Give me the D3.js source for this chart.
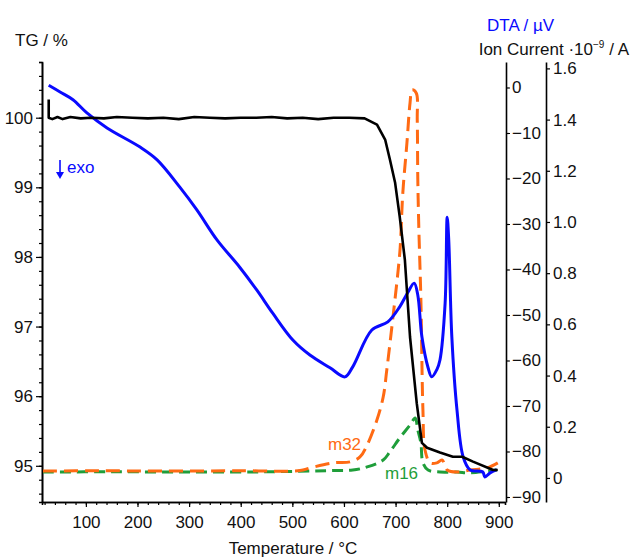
<!DOCTYPE html>
<html>
<head>
<meta charset="utf-8">
<script src="https://cdn.jsdelivr.net/npm/d3@7"></script>
<style>
  body { margin: 0; background: #fff; }
  svg { display: block; font-family: "Liberation Sans", Arial, sans-serif; }
</style>
</head>
<body>
<svg id="canvas" width="630" height="558"></svg>
<script>
// TG curve (left axis, %)
let tgTemp = [28, 28, 35, 45, 55, 70, 90, 110, 135, 160, 190, 220, 250, 280, 310, 340, 370, 400, 430, 460, 490, 520, 550, 580, 610, 640, 664, 680, 689, 699, 708, 718, 728, 741, 751, 761, 786, 811, 829, 850, 889, 898]
let tgValue = [100.26, 100.0, 99.98, 100.01, 99.98, 100.01, 99.99, 100.0, 99.99, 100.01, 100.0, 99.99, 100.0, 99.98, 100.01, 100.0, 99.99, 100.0, 100.0, 100.01, 99.99, 100.0, 99.98, 100.0, 100.0, 99.99, 99.9, 99.68, 99.4, 99.07, 98.58, 97.96, 96.85, 95.9, 95.33, 95.26, 95.19, 95.13, 95.13, 95.06, 94.94, 94.94]

// DTA curve (uV)
let dtaTemp = [28, 50, 75, 102, 141, 205, 238, 282, 315, 354, 398, 431, 462, 501, 534, 573, 602, 617, 654, 685, 708, 724, 736, 743, 751, 763, 770, 780, 786, 796, 800, 803, 809, 819, 831, 844, 869, 873, 883, 896]
let dtaValue = [0.5, -1.0, -2.7, -5.6, -8.9, -13.1, -15.9, -21.9, -26.9, -33.5, -39.5, -44.5, -49.6, -55.5, -58.8, -61.6, -63.6, -61.4, -53.3, -51.5, -48.2, -45.0, -43.0, -45.6, -54.8, -61.6, -63.6, -62.0, -59.9, -47.4, -28.5, -33.5, -54.8, -70.9, -81.2, -84.0, -84.5, -85.6, -84.7, -84.0]

// ion current m32 (1e-9 A)
let m32Temp = [17, 120, 250, 400, 515, 534, 579, 612, 631, 645, 664, 676, 683, 695, 705, 709, 714, 722, 728, 732, 740, 742, 743, 745, 749, 753, 757, 767, 780, 790, 800, 819, 844, 877, 898]
let m32Value = [0.027, 0.028, 0.027, 0.028, 0.029, 0.039, 0.059, 0.063, 0.082, 0.129, 0.227, 0.316, 0.422, 0.629, 0.812, 0.902, 1.113, 1.309, 1.465, 1.516, 1.504, 1.398, 1.176, 0.98, 0.7, 0.266, 0.109, 0.059, 0.059, 0.07, 0.031, 0.023, 0.031, 0.039, 0.059]

// ion current m16 (1e-9 A)
let m16Temp = [17, 150, 300, 450, 579, 617, 645, 676, 689, 708, 728, 738, 743, 749, 753, 763, 786, 819, 844, 896]
let m16Value = [0.023, 0.024, 0.023, 0.024, 0.029, 0.031, 0.043, 0.07, 0.102, 0.156, 0.207, 0.234, 0.188, 0.137, 0.059, 0.031, 0.023, 0.023, 0.02, 0.031]

let tgTicks = [95, 96, 97, 98, 99, 100]
let tempTicks = [100, 200, 300, 400, 500, 600, 700, 800, 900]
let dtaTicks = [0, -10, -20, -30, -40, -50, -60, -70, -80, -90]
let ionTicks = [0, 0.2, 0.4, 0.6, 0.8, 1.0, 1.2, 1.4, 1.6]

let canvas = d3.select('#canvas')

let plotTop = 62, plotBottom = 502, plotLeft = 42, plotRight = 505

let x = d3.scaleLinear().domain([15, 912]).range([plotLeft, plotRight])
let yTG = d3.scaleLinear().domain([94.48, 100.8]).range([plotBottom, plotTop])
let yDTA = d3.scaleLinear().domain([-91.1, 5.6]).range([plotBottom, plotTop])
let yIon = d3.scaleLinear().domain([-0.094, 1.625]).range([plotBottom, plotTop])

let styleAxis = (g) => {
    g.selectAll('path').attr('stroke', '#000').attr('stroke-width', 1.6)
    g.selectAll('line').attr('stroke', '#000').attr('stroke-width', 1.2)
    g.selectAll('text').attr('font-size', 17).attr('fill', '#111')
        .attr('font-family', '"Liberation Sans", Arial, sans-serif')
}

// minor ticks first
canvas.append('g')
    .attr('transform', 'translate(' + plotLeft + ',0)')
    .call(d3.axisLeft(yTG).tickValues(d3.range(94.6, 100.8, 0.2)).tickSize(3).tickFormat(''))
    .call(styleAxis)

canvas.append('g')
    .attr('transform', 'translate(0,' + plotBottom + ')')
    .call(d3.axisBottom(x).tickValues(d3.range(20, 912, 20)).tickSize(3).tickFormat(''))
    .call(styleAxis)

// major axes
canvas.append('g')
    .attr('transform', 'translate(' + plotLeft + ',0)')
    .call(d3.axisLeft(yTG).tickValues(tgTicks).tickSize(6).tickSizeOuter(0).tickPadding(3)
        .tickFormat(d3.format('d')))
    .call(styleAxis)

canvas.append('g')
    .attr('transform', 'translate(0,' + plotBottom + ')')
    .call(d3.axisBottom(x).tickValues(tempTicks).tickSize(5).tickSizeOuter(0).tickPadding(9)
        .tickFormat(d3.format('d')))
    .call(styleAxis)

canvas.append('g')
    .attr('transform', 'translate(' + (plotRight + 1) + ',0)')
    .call(d3.axisRight(yDTA).tickValues(dtaTicks).tickSize(4).tickSizeOuter(0).tickPadding(2)
        .tickFormat(d3.format('d')))
    .call(styleAxis)

canvas.append('g')
    .attr('transform', 'translate(546,0)')
    .call(d3.axisRight(yIon).tickValues(ionTicks).tickSize(4).tickSizeOuter(0).tickPadding(3)
        .tickFormat((d) => d === 0 ? '0' : d3.format('.1f')(d)))
    .call(styleAxis)

// curves
let drawCurve = (temps, values, yScale, color, width, dash, curve) => {
    let pts = temps.map((t, i) => [t, values[i]])
    let line = d3.line()
        .x((d) => x(d[0]))
        .y((d) => yScale(d[1]))
        .curve(curve)
    canvas.append('path')
        .datum(pts)
        .attr('d', line)
        .attr('fill', 'none')
        .attr('stroke', color)
        .attr('stroke-width', width)
        .attr('stroke-dasharray', dash)
        .attr('stroke-linejoin', 'round')
}

drawCurve(m16Temp, m16Value, yIon, '#1f9e3a', 3, '11,6', d3.curveCatmullRom.alpha(0.5))
drawCurve(m32Temp, m32Value, yIon, '#ff6a13', 3, '14,7', d3.curveCatmullRom.alpha(0.5))
drawCurve(dtaTemp, dtaValue, yDTA, '#0a0aff', 3, null, d3.curveCatmullRom.alpha(0.5))
drawCurve(tgTemp, tgValue, yTG, '#000', 2.6, null, d3.curveLinear)

// titles and labels
let label = (txt, px, py, color, anchor) => {
    return canvas.append('text')
        .attr('x', px).attr('y', py)
        .attr('font-size', 17)
        .attr('fill', color)
        .attr('text-anchor', anchor || 'start')
        .text(txt)
}

label('TG / %', 15, 46, '#111')
label('DTA / µV', 487, 31, '#0a0aff')
let ion = label('Ion Current ·10', 629, 55, '#111', 'end')
ion.append('tspan').attr('dy', -7).attr('font-size', 10).text('−9')
ion.append('tspan').attr('dy', 7).text(' / A')
label('Temperature / °C', 293, 554, '#111', 'middle')
label('exo', 67, 173, '#0a0aff')
label('m32', 328, 450, '#ff6a13')
label('m16', 385, 479, '#1f9e3a')

// exo arrow
canvas.append('line')
    .attr('x1', 60).attr('y1', 160).attr('x2', 60).attr('y2', 174)
    .attr('stroke', '#0a0aff').attr('stroke-width', 1.6)
canvas.append('path')
    .attr('d', 'M56,172 L64,172 L60,179 Z')
    .attr('fill', '#0a0aff')
</script>
</body>
</html>
